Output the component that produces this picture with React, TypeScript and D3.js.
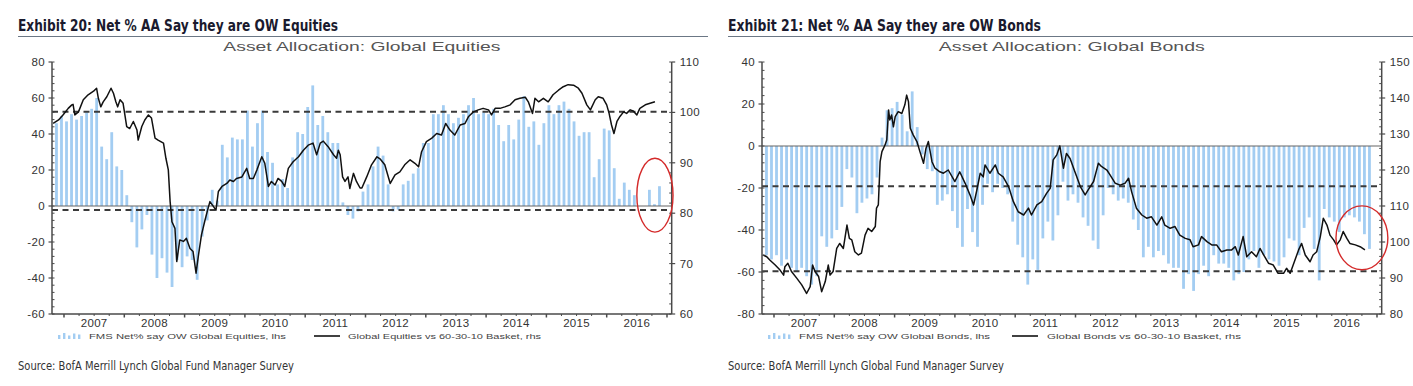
import React from "react";
import * as d3 from "d3";

// Monthly FMS bars start in Nov 2006 (decimal-year of first month start)
const BAR_START = 2006 + 10 / 12;

const equityBars = [
  46, 50, 47, 51, 48, 50, 52, 54, 60, 33, 26, 41, 22, 20, 6, -9, -23, -13, -5, -27, -40, -29, -37, -45, -30,
  -34, -28, -30, -41, -17, -8, 9, 3, 34, 27, 38, 37, 37, 53, 33, 46, 53, 30, 24, 12, 15, 10, 27, 41, 40,
  55, 67, 45, 50, 41, 35, 35, 2, -5, -7, -3, 8, 12, 22, 33, 28, 12, -3, -2, 12, 14, 18, 21, 35, 35,
  51, 51, 56, 51, 46, 49, 51, 56, 60, 51, 52,
  51, 54, 45, 36, 45, 37, 48, 61, 44, 47, 34, 46,
  56, 51, 56, 58, 54, 47, 39, 41, 41, 16, 26, 43,
  42, 21, 4, 13, 9, 6, 0, 0, 9, 1, 11,
];

const bondBars = [
  -52, -54, -52, -57, -54, -58, -60, -58, -62, -66, -62, -43, -48, -44, -40, -29, -11, -15, -32, -27, -25, -23, -15,
  4, 17, 18, 21, 15, 7, 26, 9,
  -4, -11, -12, -28, -26, -23, -31, -39, -48, -30, -41, -48, -28, -18, -22, -18, -20, -23, -36, -47, -53, -66, -54, -59, -44, -36, -45, -33, -17,
  -26, -23, -27, -34, -38, -45, -49, -33, -20, -23, -26, -25, -27, -35, -40, -53, -48, -53, -50, -52,
  -56, -58, -58, -68, -61, -69, -61, -57, -62, -52, -56, -56, -58, -64, -61, -60, -54, -50, -58, -52,
  -54, -55, -57, -53, -44, -45, -52, -39, -34, -49, -64, -30, -34, -36, -41, -34, -33, -34, -36, -42, -49,
];

// [decimal year, rhs value]
const equityLine: [number, number][] = [
  [2006.82, 97.8], [2006.91, 98.5], [2006.99, 99.6], [2007.07, 100.8], [2007.13, 101.5], [2007.15, 101.6],
  [2007.18, 99.5], [2007.24, 100.1], [2007.32, 102.5], [2007.4, 103.5], [2007.49, 104.2], [2007.54, 104.8],
  [2007.57, 102.8], [2007.61, 101.1], [2007.65, 102.1], [2007.71, 103.1], [2007.78, 104.8], [2007.82, 103.8],
  [2007.86, 102.1], [2007.89, 101.1], [2007.93, 102.5], [2007.98, 101.8], [2008.04, 97.2], [2008.09, 96.8],
  [2008.15, 98.2], [2008.21, 96.5], [2008.23, 94.5], [2008.29, 97.2], [2008.34, 98.5], [2008.4, 99.5],
  [2008.45, 98.9], [2008.51, 94.9], [2008.56, 94.5], [2008.65, 93.9], [2008.69, 90.9], [2008.73, 88.6],
  [2008.76, 82.3], [2008.79, 78.3], [2008.84, 77], [2008.87, 70.4], [2008.92, 74.7], [2008.98, 74.4],
  [2009.03, 75], [2009.09, 73], [2009.14, 72.4], [2009.19, 68.1], [2009.23, 71.7], [2009.28, 75.7],
  [2009.34, 78.7], [2009.39, 81], [2009.42, 82.3], [2009.48, 81.3], [2009.52, 80.6], [2009.56, 84.3],
  [2009.62, 85.3], [2009.7, 85.9], [2009.75, 86.6], [2009.81, 86.3], [2009.86, 86.9], [2009.95, 87.2],
  [2010.03, 88.9], [2010.08, 86.9], [2010.14, 86.9], [2010.2, 88.6], [2010.28, 91.2], [2010.33, 89.9],
  [2010.39, 85.3], [2010.44, 86.3], [2010.5, 85.6], [2010.55, 86.9], [2010.61, 86.3], [2010.66, 85.3],
  [2010.72, 88.9], [2010.8, 90.2], [2010.89, 91.2], [2010.97, 92.5], [2011.05, 93.5], [2011.13, 93.9],
  [2011.19, 91.6], [2011.25, 93.9], [2011.3, 94.3], [2011.38, 93.2], [2011.47, 91.6], [2011.52, 90.9],
  [2011.55, 92.5], [2011.58, 91.6], [2011.62, 87.2], [2011.66, 86.3], [2011.71, 87.2], [2011.74, 84.9],
  [2011.8, 87.9], [2011.85, 86.3], [2011.91, 85], [2011.94, 85], [2012.02, 87.2], [2012.1, 89.6],
  [2012.19, 91.2], [2012.24, 90.8], [2012.32, 89.6], [2012.41, 85.9], [2012.49, 87.6], [2012.57, 88.2],
  [2012.65, 89.6], [2012.74, 90.6], [2012.82, 89.9], [2012.88, 89.2], [2012.93, 92.2], [2013.01, 94.2],
  [2013.1, 94.9], [2013.18, 95.8], [2013.26, 95.5], [2013.33, 97.8], [2013.4, 96.5], [2013.48, 95.5],
  [2013.57, 97.5], [2013.65, 97.8], [2013.71, 99.2], [2013.79, 100.1], [2013.87, 100.5], [2013.95, 100.8],
  [2014.04, 100.5], [2014.09, 99.5], [2014.15, 100.8], [2014.23, 100.8], [2014.31, 101.1], [2014.4, 101.5],
  [2014.48, 102.5], [2014.56, 102.8], [2014.65, 103], [2014.7, 102.1], [2014.77, 99.8], [2014.81, 102.8],
  [2014.87, 102.1], [2014.95, 102.8], [2015.03, 102.1], [2015.11, 103.5], [2015.2, 104.4], [2015.28, 105.1],
  [2015.36, 105.5], [2015.45, 105.4], [2015.53, 104.8], [2015.59, 103.8], [2015.67, 101.5], [2015.73, 100.5],
  [2015.81, 102.5], [2015.86, 103.1], [2015.94, 102.8], [2016.0, 101.5], [2016.04, 99.8], [2016.08, 97.5],
  [2016.12, 95.8], [2016.17, 98.2], [2016.22, 99.2], [2016.28, 100.1], [2016.33, 99.8], [2016.39, 100.5],
  [2016.44, 100.3], [2016.5, 99.5], [2016.55, 100.8], [2016.64, 101.5], [2016.72, 101.8], [2016.8, 102.1],
];

const bondLine: [number, number][] = [
  [2006.82, 96.4], [2006.88, 95.9], [2006.93, 95], [2007.02, 93.6], [2007.1, 92.2], [2007.16, 90.8],
  [2007.18, 93.1], [2007.23, 94.1], [2007.29, 91.8], [2007.38, 89.9], [2007.46, 88.1], [2007.54, 85.7],
  [2007.6, 87.6], [2007.64, 93.6], [2007.68, 91.8], [2007.74, 90.4], [2007.79, 86.2], [2007.85, 89],
  [2007.9, 93.6], [2007.93, 90.8], [2007.98, 91.8], [2008.04, 98.2], [2008.09, 99.6], [2008.15, 98.2],
  [2008.21, 104.7], [2008.25, 101], [2008.29, 100.6], [2008.34, 97.3], [2008.4, 96.4], [2008.45, 96.9],
  [2008.51, 101.9], [2008.56, 103.8], [2008.62, 102.9], [2008.68, 104.3], [2008.7, 109.4], [2008.73, 110.3],
  [2008.76, 122.3], [2008.79, 125.1], [2008.84, 126.9], [2008.87, 128.3], [2008.9, 136.7], [2008.92, 133.9],
  [2008.95, 135.3], [2008.98, 132], [2009.01, 134.8], [2009.06, 136.2], [2009.12, 135.7], [2009.17, 138.1],
  [2009.2, 140.8], [2009.23, 139], [2009.26, 131.6], [2009.31, 129.7], [2009.37, 127.9], [2009.42, 125.1],
  [2009.48, 121.9], [2009.52, 126], [2009.56, 127.9], [2009.62, 122.3], [2009.67, 120.5], [2009.75, 119.5],
  [2009.81, 119.1], [2009.89, 120], [2010.0, 116.8], [2010.08, 119.5], [2010.17, 116.3], [2010.25, 113.1],
  [2010.31, 110.3], [2010.36, 114.1], [2010.42, 119.1], [2010.47, 118.1], [2010.5, 121.4], [2010.58, 119.1],
  [2010.67, 121.4], [2010.72, 119.1], [2010.8, 118.1], [2010.89, 115.4], [2010.97, 111.2], [2011.05, 108.4],
  [2011.14, 107.5], [2011.22, 109.4], [2011.27, 107.5], [2011.36, 110.3], [2011.44, 111.2], [2011.52, 113.5],
  [2011.58, 114.9], [2011.63, 122.8], [2011.69, 124.2], [2011.74, 126.7], [2011.8, 120.5], [2011.85, 124.6],
  [2011.91, 123.2], [2011.99, 119.5], [2012.08, 115.4], [2012.16, 113.1], [2012.21, 114.5], [2012.3, 116.8],
  [2012.38, 121.9], [2012.43, 121], [2012.52, 120], [2012.57, 118.7], [2012.66, 116.3], [2012.74, 115.8],
  [2012.82, 116.3], [2012.88, 117.7], [2012.93, 114], [2013.01, 109.4], [2013.1, 107.5], [2013.18, 106.6],
  [2013.26, 107], [2013.35, 104.7], [2013.43, 107], [2013.48, 104.7], [2013.57, 103.8], [2013.65, 104.3],
  [2013.73, 101.9], [2013.82, 101], [2013.9, 100.6], [2013.95, 98.7], [2014.04, 99.2], [2014.09, 101.5],
  [2014.18, 100.1], [2014.26, 99.2], [2014.34, 99.2], [2014.42, 97.3], [2014.51, 97.8], [2014.59, 97.8],
  [2014.65, 98.7], [2014.7, 96.4], [2014.78, 101.5], [2014.84, 95.9], [2014.92, 97.3], [2015.0, 95.9],
  [2015.06, 98.2], [2015.12, 96.4], [2015.2, 94.1], [2015.28, 93.6], [2015.36, 91.3], [2015.45, 91.3],
  [2015.5, 92.7], [2015.56, 91.3], [2015.61, 93.6], [2015.7, 97.8], [2015.75, 99.6], [2015.81, 96.4],
  [2015.89, 94.5], [2015.94, 96.4], [2016.0, 97.3], [2016.06, 101.5], [2016.11, 106.6], [2016.17, 104.7],
  [2016.22, 101.9], [2016.28, 100.6], [2016.33, 99.2], [2016.39, 100.6], [2016.44, 102.9], [2016.5, 101],
  [2016.55, 99.6], [2016.64, 99.2], [2016.72, 98.7], [2016.8, 97.8],
];

const yearLabels = ["2007", "2008", "2009", "2010", "2011", "2012", "2013", "2014", "2015", "2016"];
const eqLhsTicks = [80, 60, 40, 20, 0, -20, -40, -60];
const eqRhsTicks = [110, 100, 90, 80, 70, 60];
const bdLhsTicks = [40, 20, 0, -20, -40, -60, -80];
const bdRhsTicks = [150, 140, 130, 120, 110, 100, 90, 80];
const eqBands = [52.4, -2.2];
const bdBands = [-19.2, -59.7];
// ellipse annotation: [center year, center lhs value, half-width in years, half-height in lhs units]
const eqCircle = [2016.8, 6, 0.3, 20.5];
const bdCircle = [2016.75, -43.7, 0.43, 15.2];

const PLOT = { left: 52, right: 671.7, top: 62, bottom: 314 };
const X_DOMAIN = [2006.801, 2017.078];

type PanelProps = {
  ox: number;
  title: string;
  titleLen: number;
  subtitle: string;
  subLen: number;
  bars: number[];
  line: [number, number][];
  lhsTicks: number[];
  rhsTicks: number[];
  lhsMinor: number;
  rhsMinor: number;
  bands: number[];
  circle: number[];
  legend1: string;
  legend1Len: number;
  legend2: string;
  legend2Len: number;
  legendLineX: number;
  legend2X: number;
  underlineEnd: number;
};

const tickFont = "'Liberation Sans', Arial, sans-serif";
const narrowFont = "'Liberation Sans Narrow', 'DejaVu Sans Condensed', 'Liberation Sans', Arial, sans-serif";

function Panel(p: PanelProps) {
  const x = d3.scaleLinear().domain(X_DOMAIN).range([PLOT.left, PLOT.right]);
  const lhsExt = d3.extent(p.lhsTicks) as [number, number];
  const rhsExt = d3.extent(p.rhsTicks) as [number, number];
  const yL = d3.scaleLinear().domain(lhsExt).range([PLOT.bottom, PLOT.top]);
  const yR = d3.scaleLinear().domain(rhsExt).range([PLOT.bottom, PLOT.top]);
  const line = d3
    .line<[number, number]>()
    .x((d) => x(d[0]))
    .y((d) => yR(d[1]));
  const barW = 2.8;
  const lhsMinorTicks = d3.range(lhsExt[0], lhsExt[1] + 0.001, p.lhsMinor);
  const rhsMinorTicks = d3.range(rhsExt[0], rhsExt[1] + 0.001, p.rhsMinor);
  const years = d3.range(2007, 2018);
  const quarters = d3.range(2007, 2017, 0.25).filter((q) => q % 1 !== 0);
  const axisColor = "#4a4a4a";
  const [cT, cV, cDT, cDV] = p.circle;

  return (
    <g transform={`translate(${p.ox},0)`}>
      <text
        x={18}
        y={31}
        fontFamily={narrowFont}
        fontWeight="bold"
        fontSize={16.5}
        fill="#1a1a2e"
        textLength={p.titleLen}
        lengthAdjust="spacingAndGlyphs"
      >
        {p.title}
      </text>
      <line x1={18} x2={p.underlineEnd} y1={36.5} y2={36.5} stroke="#6b7785" strokeWidth={1} />
      <text
        x={(PLOT.left + PLOT.right) / 2}
        y={51}
        textAnchor="middle"
        fontFamily={tickFont}
        fontSize={13}
        fill="#555"
        textLength={p.subLen}
        lengthAdjust="spacingAndGlyphs"
      >
        {p.subtitle}
      </text>

      {/* bars */}
      {p.bars.map((v, i) => {
        const t = BAR_START + i / 12 + 1 / 24;
        const y0 = yL(0);
        const y1 = yL(v);
        return (
          <rect
            key={i}
            x={x(t) - barW / 2}
            y={Math.min(y0, y1)}
            width={barW}
            height={Math.abs(y1 - y0)}
            fill="#a3cdf2"
          />
        );
      })}

      {/* zero line */}
      <line x1={PLOT.left} x2={PLOT.right} y1={yL(0)} y2={yL(0)} stroke="#666" strokeWidth={1.2} />
      {/* dashed bands */}
      {p.bands.map((b, i) => (
        <line
          key={i}
          x1={PLOT.left}
          x2={PLOT.right}
          y1={yL(b)}
          y2={yL(b)}
          stroke="#3a3a3a"
          strokeWidth={2}
          strokeDasharray="6,4.5"
        />
      ))}

      {/* line series */}
      <path d={line(p.line) || ""} fill="none" stroke="#111" strokeWidth={1.5} strokeLinejoin="round" />

      {/* axes */}
      <line x1={PLOT.left} x2={PLOT.left} y1={PLOT.top} y2={PLOT.bottom} stroke={axisColor} strokeWidth={1.5} />
      <line x1={PLOT.right} x2={PLOT.right} y1={PLOT.top} y2={PLOT.bottom} stroke={axisColor} strokeWidth={1.5} />
      <line x1={PLOT.left} x2={PLOT.right} y1={PLOT.bottom} y2={PLOT.bottom} stroke={axisColor} strokeWidth={1.5} />

      {lhsMinorTicks.map((v, i) => (
        <line key={"lm" + i} x1={PLOT.left} x2={PLOT.left + 2.5} y1={yL(v)} y2={yL(v)} stroke={axisColor} strokeWidth={1} />
      ))}
      {p.lhsTicks.map((v) => (
        <g key={"lt" + v}>
          <line x1={PLOT.left - 3.5} x2={PLOT.left} y1={yL(v)} y2={yL(v)} stroke={axisColor} strokeWidth={1.2} />
          <text
            x={PLOT.left - 7}
            y={yL(v) + 4}
            textAnchor="end"
            fontFamily={tickFont}
            fontSize={11.5}
            letterSpacing={0.4}
            fill="#333"
          >
            {v}
          </text>
        </g>
      ))}
      {rhsMinorTicks.map((v, i) => (
        <line key={"rm" + i} x1={PLOT.right - 2.5} x2={PLOT.right} y1={yR(v)} y2={yR(v)} stroke={axisColor} strokeWidth={1} />
      ))}
      {p.rhsTicks.map((v) => (
        <g key={"rt" + v}>
          <line x1={PLOT.right} x2={PLOT.right + 3.5} y1={yR(v)} y2={yR(v)} stroke={axisColor} strokeWidth={1.2} />
          <text x={PLOT.right + 8} y={yR(v) + 4} fontFamily={tickFont} fontSize={11.5} letterSpacing={0.4} fill="#333">
            {v}
          </text>
        </g>
      ))}

      {years.map((yv) => (
        <line key={"y" + yv} x1={x(yv)} x2={x(yv)} y1={PLOT.bottom} y2={PLOT.bottom + 3.5} stroke={axisColor} strokeWidth={1.5} />
      ))}
      {quarters.map((q, i) => (
        <line key={"q" + i} x1={x(q)} x2={x(q)} y1={PLOT.bottom} y2={PLOT.bottom + 2} stroke={axisColor} strokeWidth={1} />
      ))}
      {yearLabels.map((lab) => (
        <text
          key={lab}
          x={x(+lab + 0.5)}
          y={PLOT.bottom + 13}
          textAnchor="middle"
          fontFamily={tickFont}
          fontSize={11.5}
          letterSpacing={0.3}
          fill="#333"
        >
          {lab}
        </text>
      ))}

      {/* red ellipse annotation */}
      <ellipse
        cx={x(cT)}
        cy={yL(cV)}
        rx={x(cT + cDT) - x(cT)}
        ry={yL(cV - cDV) - yL(cV)}
        fill="none"
        stroke="#d42a2a"
        strokeWidth={1.4}
      />

      {/* legend */}
      {[4, 6, 3.5, 5.5, 4.5].map((h, i) => (
        <rect key={"li" + i} x={58 + i * 5} y={339 - h} width={2.4} height={h} fill="#a3cdf2" />
      ))}
      <text
        x={89}
        y={339}
        fontFamily={tickFont}
        fontSize={8}
        fill="#444"
        textLength={p.legend1Len}
        lengthAdjust="spacingAndGlyphs"
      >
        {p.legend1}
      </text>
      <line x1={p.legendLineX} x2={p.legendLineX + 26} y1={336} y2={336} stroke="#111" strokeWidth={1.6} />
      <text
        x={p.legend2X}
        y={339}
        fontFamily={tickFont}
        fontSize={8}
        fill="#444"
        textLength={p.legend2Len}
        lengthAdjust="spacingAndGlyphs"
      >
        {p.legend2}
      </text>

      <text
        x={18}
        y={370}
        fontFamily={narrowFont}
        fontSize={13}
        fill="#333"
        textLength={276}
        lengthAdjust="spacingAndGlyphs"
      >
        Source: BofA Merrill Lynch Global Fund Manager Survey
      </text>
    </g>
  );
}

export default function App() {
  return (
    <svg
      width={1413}
      height={386}
      viewBox="0 0 1413 386"
      style={{ position: "absolute", left: 0, top: 0, background: "#fff" }}
    >
      <rect x={0} y={0} width={1413} height={386} fill="#fff" />
      <Panel
        ox={0}
        title="Exhibit 20: Net % AA Say they are OW Equities"
        titleLen={320}
        subtitle="Asset Allocation: Global Equities"
        subLen={277}
        bars={equityBars}
        line={equityLine}
        lhsTicks={eqLhsTicks}
        rhsTicks={eqRhsTicks}
        lhsMinor={4}
        rhsMinor={2}
        bands={eqBands}
        circle={eqCircle}
        legend1="FMS Net% say OW Global Equities, lhs"
        legend1Len={197}
        legend2="Global Equities vs 60-30-10 Basket, rhs"
        legend2Len={193}
        legendLineX={314}
        legend2X={348}
        underlineEnd={708}
      />
      <Panel
        ox={710}
        title="Exhibit 21: Net % AA Say they are OW Bonds"
        titleLen={313}
        subtitle="Asset Allocation: Global Bonds"
        subLen={266}
        bars={bondBars}
        line={bondLine}
        lhsTicks={bdLhsTicks}
        rhsTicks={bdRhsTicks}
        lhsMinor={4}
        rhsMinor={2}
        bands={bdBands}
        circle={bdCircle}
        legend1="FMS Net% say OW Global Bonds, lhs"
        legend1Len={191}
        legend2="Global Bonds vs 60-30-10 Basket, rhs"
        legend2Len={194}
        legendLineX={302}
        legend2X={337}
        underlineEnd={703}
      />
    </svg>
  );
}
